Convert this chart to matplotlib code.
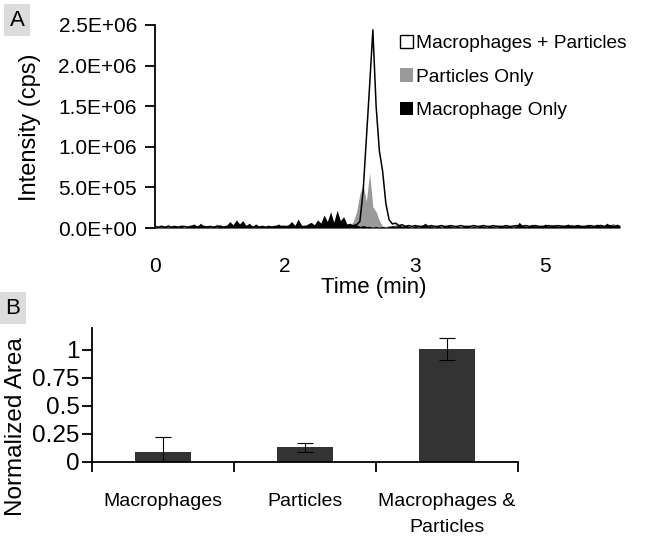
import numpy as np
import matplotlib
matplotlib.use('Agg')
import matplotlib.pyplot as plt
from matplotlib.patches import Patch
from matplotlib.ticker import FuncFormatter

plt.rcParams['font.family'] = ['Liberation Sans', 'DejaVu Sans']

# panel A: chromatogram, one sample every 0.025 on the plotted time axis
time_step = 0.025
time_ticks = [0, 1, 2, 3]
time_labels = ['0', '2', '3', '5']

# intensities in units of 1E+04 cps
mac_plus_part = [
    2, 1, 2, 1, 2, 1, 2, 1, 2, 2, 1, 2,
    2, 1, 2, 2, 1, 2, 1, 2, 2, 1, 2, 2,
    2, 1, 2, 1, 2, 2, 1, 2, 1, 2, 1, 2,
    1, 2, 1, 2, 2, 1, 2, 1, 2, 1, 2, 2,
    2, 1, 2, 2, 1, 2, 2, 1, 2, 2, 1, 2,
    2, 3, 4, 8, 45, 110, 175, 244, 150, 95, 70, 30,
    10, 5, 6, 3, 4, 2, 3, 2, 3, 2, 2, 3,
    2, 3, 2, 2, 3, 2, 2, 3, 2, 2, 3, 2,
    2, 2, 3, 2, 2, 3, 2, 2, 3, 2, 2, 2,
    3, 2, 2, 3, 2, 2, 3, 2, 2, 3, 2, 2,
    2, 3, 2, 2, 3, 2, 2, 3, 2, 2, 3, 2,
    2, 2, 3, 2, 2, 3, 2, 2, 3, 2, 2, 2,
]
particles_only = [
    1, 2, 4, 1, 5, 2, 1, 2, 3, 1, 2, 1,
    2, 1, 3, 2, 1, 2, 2, 5, 3, 1, 2, 2,
    3, 2, 1, 2, 3, 2, 1, 2, 1, 2, 2, 3,
    2, 1, 2, 3, 1, 2, 2, 1, 3, 2, 1, 2,
    2, 3, 2, 1, 2, 3, 2, 4, 3, 2, 3, 2,
    3, 8, 20, 42, 53, 33, 68, 26, 20, 9, 2, 2,
    3, 2, 5, 2, 3, 4, 2, 3, 2, 4, 2, 3,
    2, 3, 2, 2, 4, 2, 3, 2, 3, 2, 2, 3,
    2, 2, 3, 2, 4, 2, 3, 2, 3, 4, 2, 2,
    3, 2, 4, 3, 2, 4, 2, 3, 5, 3, 2, 3,
    4, 2, 3, 5, 2, 3, 4, 2, 5, 3, 4, 2,
    3, 5, 3, 2, 4, 5, 3, 2, 4, 6, 3, 2,
]
macrophage_only = [
    1, 2, 1, 2, 1, 1, 3, 1, 2, 1, 2, 3,
    5, 2, 6, 2, 3, 1, 2, 1, 4, 2, 3, 8,
    4, 10, 5, 9, 3, 6, 2, 5, 2, 3, 1, 3,
    2, 3, 5, 2, 3, 4, 8, 3, 11, 4, 2, 5,
    7, 4, 10, 6, 16, 8, 20, 7, 22, 9, 14, 5,
    6, 3, 4, 2, 3, 2, 2, 1, 2, 1, 2, 1,
    2, 3, 2, 4, 2, 3, 2, 1, 3, 1, 2, 6,
    3, 2, 1, 3, 1, 2, 4, 2, 1, 3, 1, 2,
    3, 1, 2, 1, 3, 2, 1, 3, 2, 1, 2, 3,
    2, 3, 1, 2, 7, 3, 2, 3, 4, 2, 3, 2,
    5, 2, 4, 3, 2, 4, 2, 5, 2, 3, 4, 2,
    3, 4, 2, 3, 5, 2, 3, 6, 3, 2, 5, 3,
]
unit = 1e4

# panel B: normalized peak area
groups = ['Macrophages', 'Particles', 'Macrophages &\nParticles']
norm_area = [0.09, 0.13, 1.01]
norm_err = [0.13, 0.04, 0.10]

W, H = 654, 540
fig = plt.figure(figsize=(W / 100, H / 100), dpi=100)

# ---- panel A ----
t = np.arange(len(mac_plus_part)) * time_step
mp = np.array(mac_plus_part) * unit
po = np.array(particles_only) * unit
mo = np.array(macrophage_only) * unit

axA = fig.add_axes([155 / W, 1 - 228 / H, 465 / W, 203 / H])
axA.fill_between(t, 0, mp, color='white', lw=0, zorder=1)
axA.fill_between(t, 0, po, color='#9a9a9a', lw=0, zorder=2)
axA.fill_between(t, 0, mo, color='black', lw=0, zorder=3)
axA.plot(t, mp, color='black', lw=1.1, zorder=4)
axA.set_xlim(0, t[-1])
axA.set_ylim(0, 2.5e6)
axA.set_yticks(np.arange(0, 2.51e6, 5e5))
axA.yaxis.set_major_formatter(FuncFormatter(lambda v, p: f'{v:.1E}'))
axA.set_xticks(time_ticks)
axA.set_xticklabels(time_labels)
for s in ['top', 'right', 'bottom']:
    axA.spines[s].set_visible(False)
axA.spines['left'].set_linewidth(1.3)
axA.tick_params(axis='y', direction='out', length=7, width=1.3, pad=6, labelsize=15)
axA.tick_params(axis='x', length=0, pad=21, labelsize=15)

handles = [Patch(fc='white', ec='black', lw=1),
           Patch(fc='#9a9a9a', ec='none'),
           Patch(fc='black', ec='none')]
labels = ['Macrophages + Particles', 'Particles Only', 'Macrophage Only']
fig.legend(handles, labels, loc='upper left', bbox_to_anchor=(400 / W, 1 - 35 / H),
           frameon=False, fontsize=13.8, handlelength=0.7, handleheight=0.7,
           handletextpad=0.15, labelspacing=0.83, borderpad=0, borderaxespad=0)

fig.text(30 / W, 1 - 127 / H, 'Intensity (cps)', rotation=90, ha='center', va='center', fontsize=17)
fig.text(374 / W, 1 - 287 / H, 'Time (min)', ha='center', va='center', fontsize=16)
fig.text(17 / W, 1 - 20 / H, 'A', ha='center', va='center', fontsize=16,
         bbox=dict(boxstyle='square,pad=0.25', fc='#dcdcdc', ec='none'))

# ---- panel B ----
axB = fig.add_axes([92 / W, 78 / H, 426 / W, 134.4 / H])
x = np.arange(len(groups))
axB.bar(x, norm_area, width=0.4, color='#333333', yerr=norm_err, capsize=5.5,
        error_kw=dict(elinewidth=0.8, capthick=0.8, ecolor='black'))
axB.set_xlim(-0.5, len(groups) - 0.5)
axB.set_ylim(0, 1.2)
axB.set_yticks([0, 0.25, 0.5, 0.75, 1])
axB.set_yticklabels(['0', '0.25', '0.5', '0.75', '1'])
axB.set_xticks(x)
axB.set_xticklabels(groups, linespacing=1.75)
axB.set_xticks(np.arange(len(groups) + 1) - 0.5, minor=True)
for s in ['top', 'right']:
    axB.spines[s].set_visible(False)
for s in ['left', 'bottom']:
    axB.spines[s].set_linewidth(1.3)
axB.tick_params(axis='y', direction='out', length=7, width=1.3, pad=2, labelsize=17.5)
axB.tick_params(axis='x', which='major', length=0, pad=22, labelsize=14)
axB.tick_params(axis='x', which='minor', direction='out', length=7, width=1.3)

fig.text(16 / W, 1 - 427 / H, 'Normalized Area', rotation=90, ha='center', va='center', fontsize=17.5)
fig.text(13 / W, 1 - 308 / H, 'B', ha='center', va='center', fontsize=16,
         bbox=dict(boxstyle='square,pad=0.25', fc='#dcdcdc', ec='none'))

fig.savefig('out.png', dpi=100)
